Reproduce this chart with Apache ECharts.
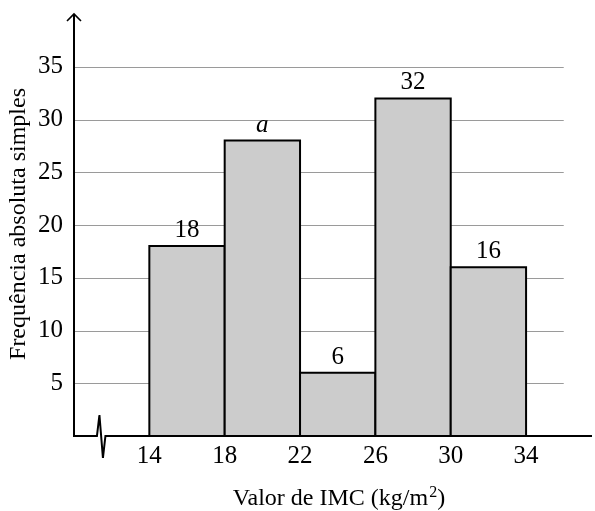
<!DOCTYPE html>
<html><head><meta charset="utf-8">
<script src="https://cdn.jsdelivr.net/npm/echarts@6/dist/echarts.min.js"></script>
<style>html,body{margin:0;padding:0;background:#fff}#c{width:595px;height:511px}</style>
</head><body><div id="c"></div>
<script>
const binStarts = [14, 18, 22, 26, 30];
const binEnds = [18, 22, 26, 30, 34];
const freqs = [18, 28, 6, 32, 16];
const barLabels = ['18', 'a', '6', '32', '16'];
const yTicks = [5, 10, 15, 20, 25, 30, 35];
const xTicks = [14, 18, 22, 26, 30, 34];
const xTitle = 'Valor de IMC (kg/m{sup|2})';
const yTitle = 'Frequência absoluta simples';

const FONT = '"Liberation Serif", "DejaVu Serif", serif';
const chart = echarts.init(document.getElementById('c'), null, {renderer: 'canvas'});

const gridData = yTicks.map(v => [10, 36, v]);
const barData = binStarts.map((s, i) => [s, binEnds[i], freqs[i]]);

const option = {
  animation: false,
  backgroundColor: '#fff',
  grid: {left: 74, right: 0, top: 14, bottom: 75, containLabel: false},
  xAxis: {
    type: 'value', min: 10, max: 37.5, interval: 4,
    axisLine: {show: false}, axisTick: {show: false}, splitLine: {show: false},
    axisLabel: {formatter: v => xTicks.includes(v) ? String(v) : '', fontFamily: FONT, fontSize: 25, color: '#000', margin: 8}
  },
  yAxis: {
    type: 'value', min: 0, max: 40, interval: 5,
    axisLine: {show: false}, axisTick: {show: false}, splitLine: {show: false},
    axisLabel: {formatter: v => yTicks.includes(v) ? String(v) : '', fontFamily: FONT, fontSize: 25, color: '#000', margin: 11}
  },
  series: [
    {
      type: 'custom', data: gridData, encode: {x: [0, 1], y: 2}, z: 1, silent: true,
      renderItem: (params, api) => {
        const p1 = api.coord([api.value(0), api.value(2)]);
        const p2 = api.coord([api.value(1), api.value(2)]);
        return {type: 'line', shape: {x1: p1[0], y1: Math.round(p1[1]) + 0.5, x2: p2[0], y2: Math.round(p2[1]) + 0.5},
          style: {stroke: '#9a9a9a', lineWidth: 1}};
      }
    },
    {
      type: 'custom', data: barData, encode: {x: [0, 1], y: 2}, z: 2, silent: true,
      renderItem: (params, api) => {
        const s = api.value(0), e = api.value(1), v = api.value(2);
        const lbl = barLabels[params.dataIndex];
        const p0 = api.coord([s, 0]);
        const p1 = api.coord([e, v]);
        return {
          type: 'group',
          children: [
            {type: 'rect', shape: {x: p0[0], y: p1[1], width: p1[0] - p0[0], height: p0[1] - p1[1]},
              style: {fill: '#cccccc', stroke: '#000', lineWidth: 2}},
            {type: 'text', x: (p0[0] + p1[0]) / 2, y: p1[1] - 3,
              style: {text: lbl, fill: '#000', fontFamily: FONT, fontSize: 25,
                fontStyle: lbl === 'a' ? 'italic' : 'normal', align: 'center', verticalAlign: 'bottom'}}
          ]
        };
      }
    }
  ]
};
chart.setOption(option);

const o = chart.convertToPixel({gridIndex: 0}, [10, 0]);
const t = chart.convertToPixel({gridIndex: 0}, [10, 40]);
const r = chart.convertToPixel({gridIndex: 0}, [37.5, 0]);
const b = chart.convertToPixel({gridIndex: 0}, [11.35, 0]);
const ox = o[0], oy = o[1];
chart.setOption({
  graphic: [
    {type: 'polyline', z: 10, shape: {points: [[ox, oy], [ox, t[1] + 1]]}, style: {stroke: '#000', lineWidth: 2, fill: null}},
    {type: 'polyline', z: 10, shape: {points: [[ox - 7, t[1] + 7], [ox, t[1]], [ox + 7, t[1] + 7]]}, style: {stroke: '#000', lineWidth: 1.6, fill: null}},
    {type: 'polyline', z: 10, shape: {points: [[ox - 1, oy], [b[0] - 2.5, oy], [b[0], oy - 21], [b[0] + 3.5, oy + 22], [b[0] + 6, oy], [r[0], oy]]},
      style: {stroke: '#000', lineWidth: 2, fill: null, lineJoin: 'miter'}},
    {type: 'text', z: 10, x: 339, y: 499,
      style: {text: xTitle, fill: '#000', fontFamily: FONT, fontSize: 24, align: 'center', verticalAlign: 'middle',
        rich: {sup: {fontFamily: FONT, fontSize: 16, padding: [0, 0, 12, 1], fill: '#000'}}}},
    {type: 'text', z: 10, x: 19, y: 224, rotation: Math.PI / 2,
      style: {text: yTitle, fill: '#000', fontFamily: FONT, fontSize: 24, align: 'center', verticalAlign: 'middle'}}
  ]
});
</script>
</body></html>
